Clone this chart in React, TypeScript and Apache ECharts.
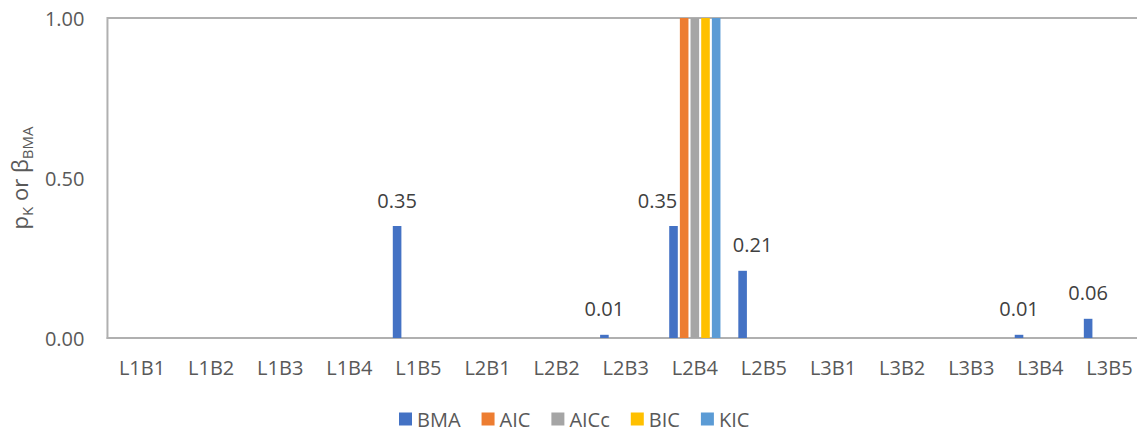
import React, { useEffect, useRef } from "react";
import * as echarts from "echarts";

const categories = ["L1B1", "L1B2", "L1B3", "L1B4", "L1B5", "L2B1", "L2B2", "L2B3", "L2B4", "L2B5", "L3B1", "L3B2", "L3B3", "L3B4", "L3B5"];
const bma = [0, 0, 0, 0, 0.35, 0, 0, 0.01, 0.35, 0.21, 0, 0, 0, 0.01, 0.06];
const aic = [0, 0, 0, 0, 0, 0, 0, 0, 1, 0, 0, 0, 0, 0, 0];
const aicc = [0, 0, 0, 0, 0, 0, 0, 0, 1, 0, 0, 0, 0, 0, 0];
const bic = [0, 0, 0, 0, 0, 0, 0, 0, 1, 0, 0, 0, 0, 0, 0];
const kic = [0, 0, 0, 0, 0, 0, 0, 0, 1, 0, 0, 0, 0, 0, 0];
const seriesNames = ["BMA", "AIC", "AICc", "BIC", "KIC"];
const colors = ["#4472C4", "#ED7D31", "#A5A5A5", "#FFC000", "#5B9BD5"];
const yTicks = [0, 0.5, 1];

const FONT = "Open Sans";
const TXT = "#595959";
// manual label nudges (as in the original chart) keyed by category
const labelShift: Record<string, number> = { L2B4: -16, L2B5: 10 };

export default function App() {
  const ref = useRef<HTMLDivElement>(null);
  useEffect(() => {
    const chart = echarts.init(ref.current!, null, { renderer: "svg" });
    const datasets = [bma, aic, aicc, bic, kic];
    chart.setOption({
      animation: false,
      textStyle: { fontFamily: FONT },
      grid: {
        left: 106,
        top: 18,
        width: 1038,
        height: 320,
        show: true,
        borderColor: "#b0b0b0",
        borderWidth: 2,
        containLabel: false,
      },
      legend: {
        left: 394,
        top: 404,
        padding: [5, 5, 0, 5],
        itemWidth: 13,
        itemHeight: 13,
        itemGap: 21,
        icon: "rect",
        textStyle: { fontFamily: FONT, fontSize: 20, lineHeight: 18, color: TXT },
        data: seriesNames,
      },
      xAxis: {
        type: "category",
        data: categories,
        axisLine: { show: true, lineStyle: { color: "#b0b0b0", width: 2 } },
        axisTick: { show: false },
        axisLabel: { fontFamily: FONT, fontSize: 20, color: TXT, margin: 19, interval: 0 },
      },
      yAxis: {
        type: "value",
        min: yTicks[0],
        max: yTicks[yTicks.length - 1],
        interval: 0.5,
        splitLine: { show: false },
        axisLine: { show: false },
        axisTick: { show: false },
        axisLabel: {
          fontFamily: FONT,
          fontSize: 20,
          color: TXT,
          margin: 23,
          formatter: (v: number) => v.toFixed(2),
        },
        name: "{n|p}{s|K}{n| or β}{s|BMA}",
        nameLocation: "middle",
        nameRotate: 90,
        nameGap: 72,
        nameTextStyle: {
          rich: {
            n: { fontFamily: FONT, fontSize: 22, color: TXT, lineHeight: 30 },
            s: { fontFamily: FONT, fontSize: 15, color: TXT, lineHeight: 14, verticalAlign: "bottom" },
          },
        },
      },
      series: seriesNames.map((name, i) => ({
        name,
        type: "bar",
        data:
          i === 0
            ? datasets[i].map((v, k) => ({
                value: v,
                label: { offset: [labelShift[categories[k]] || 0, 0] },
              }))
            : datasets[i],
        barWidth: 8.6,
        barGap: "24%",
        itemStyle: { color: colors[i] },
        label:
          i === 0
            ? {
                show: true,
                position: "top",
                distance: 16,
                fontFamily: FONT,
                fontSize: 20,
                color: "#404040",
                formatter: (p: any) => (p.value > 0 ? Number(p.value).toFixed(2) : ""),
              }
            : { show: false },
      })),
    });
    return () => chart.dispose();
  }, []);
  return (
    <div style={{ position: "absolute", left: 0, top: 0, width: 1137, height: 434, overflow: "hidden" }}>
      <div ref={ref} style={{ position: "absolute", left: 0, top: 0, width: 1146, height: 434 }} />
    </div>
  );
}
